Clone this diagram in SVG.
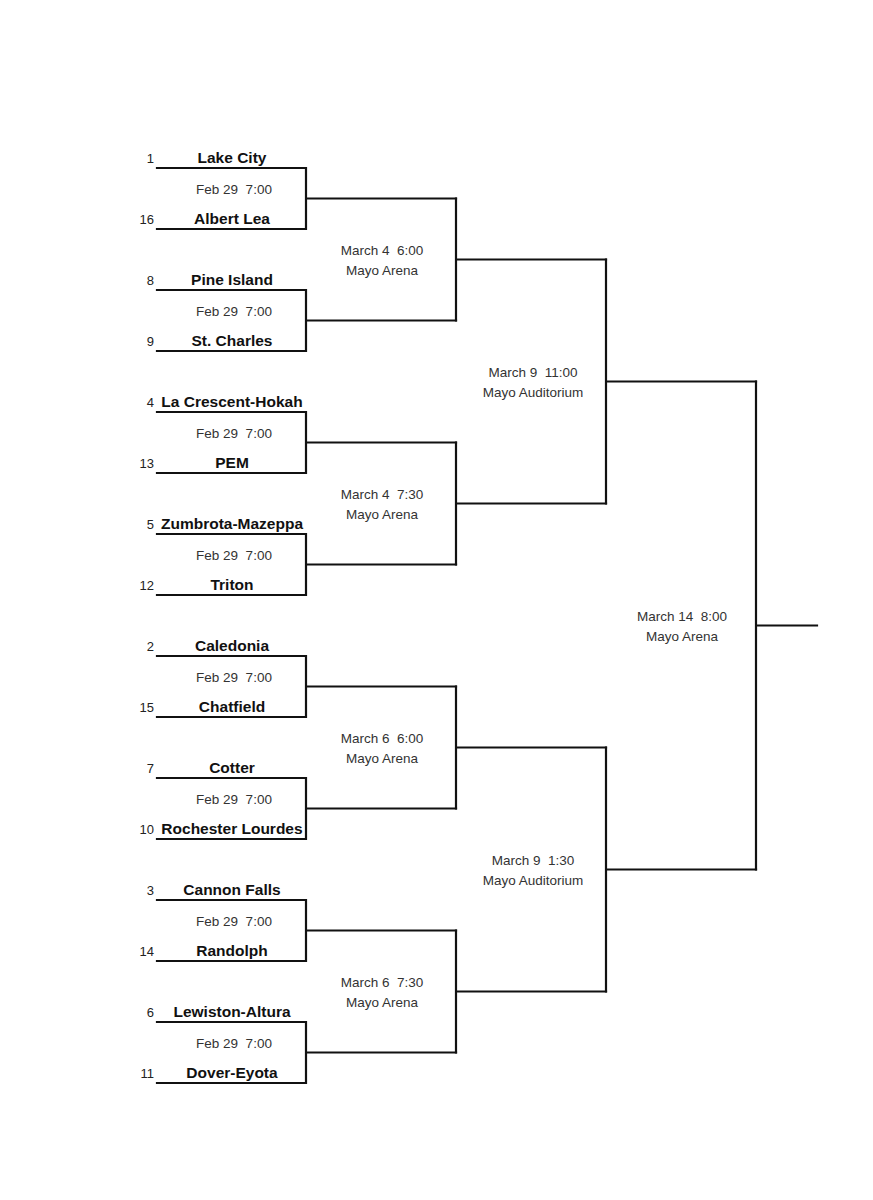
<svg xmlns="http://www.w3.org/2000/svg" width="873" height="1200" viewBox="0 0 873 1200">
<style>
.ln{fill:none;stroke:#111;stroke-width:2.2;stroke-linejoin:miter;stroke-linecap:square}
.tm{font-family:"Liberation Sans",Arial,sans-serif;font-weight:bold;font-size:15.5px;fill:#111;text-anchor:middle}
.sd{font-family:"Liberation Sans",Arial,sans-serif;font-size:13px;fill:#222;text-anchor:end}
.dt{font-family:"Liberation Sans",Arial,sans-serif;font-size:13.5px;fill:#333;text-anchor:middle}
</style>
<rect width="873" height="1200" fill="#fff"/>
<g id="connectors">
<path class="ln" d="M157 168H306V229H157M306 198.5H456"/>
<path class="ln" d="M157 290H306V351H157M306 320.5H456"/>
<path class="ln" d="M157 412H306V473H157M306 442.5H456"/>
<path class="ln" d="M157 534H306V595H157M306 564.5H456"/>
<path class="ln" d="M157 656H306V717H157M306 686.5H456"/>
<path class="ln" d="M157 778H306V839H157M306 808.5H456"/>
<path class="ln" d="M157 900H306V961H157M306 930.5H456"/>
<path class="ln" d="M157 1022H306V1083H157M306 1052.5H456"/>
<path class="ln" d="M456 198.5V320.5M456 259.5H606"/>
<path class="ln" d="M456 442.5V564.5M456 503.5H606"/>
<path class="ln" d="M456 686.5V808.5M456 747.5H606"/>
<path class="ln" d="M456 930.5V1052.5M456 991.5H606"/>
<path class="ln" d="M606 259.5V503.5M606 381.5H756"/>
<path class="ln" d="M606 747.5V991.5M606 869.5H756"/>
<path class="ln" d="M756 381.5V869.5M756 625.5H817"/>
</g>
<g id="team-1"><text class="sd" x="154" y="163">1</text><text class="tm" x="232" y="163">Lake City</text></g>
<g id="team-16"><text class="sd" x="154" y="224">16</text><text class="tm" x="232" y="224">Albert Lea</text></g>
<g id="team-8"><text class="sd" x="154" y="285">8</text><text class="tm" x="232" y="285">Pine Island</text></g>
<g id="team-9"><text class="sd" x="154" y="346">9</text><text class="tm" x="232" y="346">St. Charles</text></g>
<g id="team-4"><text class="sd" x="154" y="407">4</text><text class="tm" x="232" y="407">La Crescent-Hokah</text></g>
<g id="team-13"><text class="sd" x="154" y="468">13</text><text class="tm" x="232" y="468">PEM</text></g>
<g id="team-5"><text class="sd" x="154" y="529">5</text><text class="tm" x="232" y="529">Zumbrota-Mazeppa</text></g>
<g id="team-12"><text class="sd" x="154" y="590">12</text><text class="tm" x="232" y="590">Triton</text></g>
<g id="team-2"><text class="sd" x="154" y="651">2</text><text class="tm" x="232" y="651">Caledonia</text></g>
<g id="team-15"><text class="sd" x="154" y="712">15</text><text class="tm" x="232" y="712">Chatfield</text></g>
<g id="team-7"><text class="sd" x="154" y="773">7</text><text class="tm" x="232" y="773">Cotter</text></g>
<g id="team-10"><text class="sd" x="154" y="834">10</text><text class="tm" x="232" y="834">Rochester Lourdes</text></g>
<g id="team-3"><text class="sd" x="154" y="895">3</text><text class="tm" x="232" y="895">Cannon Falls</text></g>
<g id="team-14"><text class="sd" x="154" y="956">14</text><text class="tm" x="232" y="956">Randolph</text></g>
<g id="team-6"><text class="sd" x="154" y="1017">6</text><text class="tm" x="232" y="1017">Lewiston-Altura</text></g>
<g id="team-11"><text class="sd" x="154" y="1078">11</text><text class="tm" x="232" y="1078">Dover-Eyota</text></g>
<g id="r1-g1"><text class="dt" x="234" y="193.5">Feb 29&#160; 7:00</text></g>
<g id="r1-g2"><text class="dt" x="234" y="315.5">Feb 29&#160; 7:00</text></g>
<g id="r1-g3"><text class="dt" x="234" y="437.5">Feb 29&#160; 7:00</text></g>
<g id="r1-g4"><text class="dt" x="234" y="559.5">Feb 29&#160; 7:00</text></g>
<g id="r1-g5"><text class="dt" x="234" y="681.5">Feb 29&#160; 7:00</text></g>
<g id="r1-g6"><text class="dt" x="234" y="803.5">Feb 29&#160; 7:00</text></g>
<g id="r1-g7"><text class="dt" x="234" y="925.5">Feb 29&#160; 7:00</text></g>
<g id="r1-g8"><text class="dt" x="234" y="1047.5">Feb 29&#160; 7:00</text></g>
<g id="r2-g1"><text class="dt" x="382" y="254.5">March 4&#160; 6:00</text><text class="dt" x="382" y="274.5">Mayo Arena</text></g>
<g id="r2-g2"><text class="dt" x="382" y="498.5">March 4&#160; 7:30</text><text class="dt" x="382" y="518.5">Mayo Arena</text></g>
<g id="r2-g3"><text class="dt" x="382" y="742.5">March 6&#160; 6:00</text><text class="dt" x="382" y="762.5">Mayo Arena</text></g>
<g id="r2-g4"><text class="dt" x="382" y="986.5">March 6&#160; 7:30</text><text class="dt" x="382" y="1006.5">Mayo Arena</text></g>
<g id="r3-g1"><text class="dt" x="533" y="376.5">March 9&#160; 11:00</text><text class="dt" x="533" y="396.5">Mayo Auditorium</text></g>
<g id="r3-g2"><text class="dt" x="533" y="864.5">March 9&#160; 1:30</text><text class="dt" x="533" y="884.5">Mayo Auditorium</text></g>
<g id="final"><text class="dt" x="682" y="620.5">March 14&#160; 8:00</text><text class="dt" x="682" y="640.5">Mayo Arena</text></g>
</svg>
